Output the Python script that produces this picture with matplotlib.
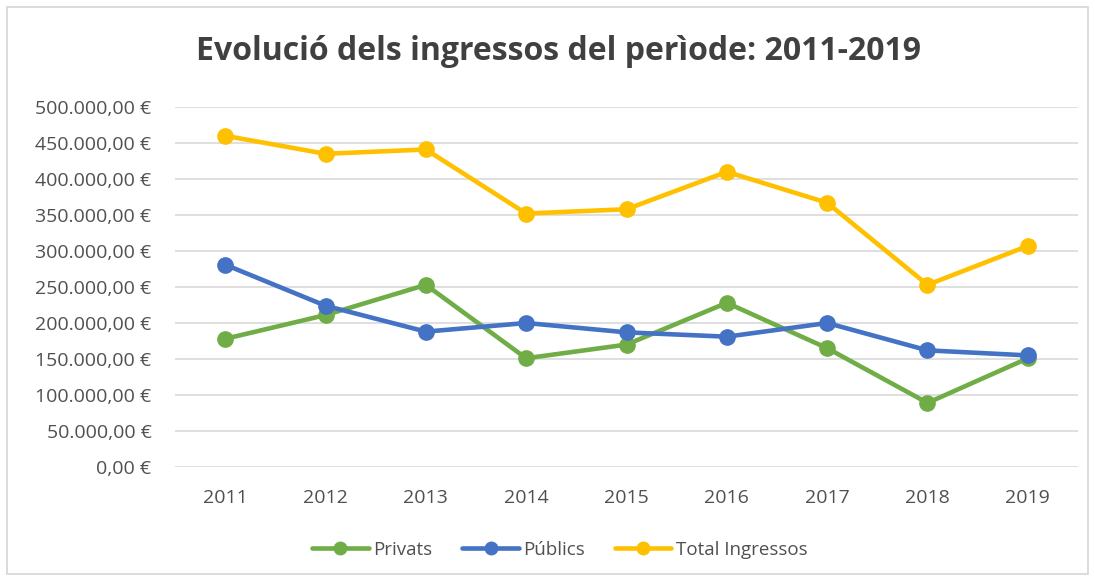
import matplotlib
matplotlib.use("Agg")
import matplotlib.pyplot as plt
from matplotlib.patches import Rectangle
from matplotlib.ticker import FuncFormatter

years = ["2011", "2012", "2013", "2014", "2015", "2016", "2017", "2018", "2019"]
privats = [178000, 211000, 253000, 151000, 170000, 228000, 165000, 89000, 151000]
publics = [281000, 224000, 188000, 200000, 187000, 181000, 200000, 162000, 155000]
total = [460000, 435000, 441000, 352000, 358000, 410000, 367000, 253000, 307000]

plt.rcParams['font.family'] = ['Open Sans', 'DejaVu Sans']

fig = plt.figure(figsize=(10.95, 5.81), dpi=100)
fig.patches.append(Rectangle((7/1095, 7/581), 1 - 14/1095, 1 - 14/581, transform=fig.transFigure,
                             fill=False, edgecolor='#d9d9d9', linewidth=1.3))
ax = fig.add_axes([175/1095, 1 - 467/581, (1078 - 175)/1095, (467 - 107)/581])

x = list(range(len(years)))
series = [("Privats", privats, "#70AD47"), ("Públics", publics, "#4472C4"), ("Total Ingressos", total, "#FFC000")]
for name, vals, col in series:
    ax.plot(x, vals, color=col, linewidth=3.3, marker='o', markersize=11, label=name,
            solid_capstyle='round', solid_joinstyle='round')

ax.set_xlim(-0.5, len(years) - 0.5)
ax.set_ylim(0, 500000)
ax.set_yticks(range(0, 500001, 50000))

def fmt(v, pos):
    s = f"{int(v):,}".replace(",", ".")
    return f"{s},00 €"
ax.yaxis.set_major_formatter(FuncFormatter(fmt))
ax.set_xticks(x)
ax.set_xticklabels(years)
ax.grid(axis='y', color='#d9d9d9', linewidth=1.2)
ax.set_axisbelow(True)
for s in ax.spines.values():
    s.set_visible(False)
ax.tick_params(axis='both', length=0, labelsize=14, colors='#505050')
ax.tick_params(axis='y', pad=17)
ax.tick_params(axis='x', pad=16)

fig.text(558/1095, 1 - 52/581, "Evolució dels ingressos del perìode: 2011-2019", ha='center', va='center',
         fontsize=23, fontweight='bold', color='#404040')

leg = fig.legend(loc='center', bbox_to_anchor=(560/1095, 1 - 550/581), ncol=3, frameon=False,
                 fontsize=13.5, handlelength=3.0, columnspacing=1.6, handletextpad=0.25)
for t in leg.get_texts():
    t.set_color('#505050')
for h in leg.legend_handles:
    h.set_markersize(9)

fig.savefig("out.png", dpi=100)
